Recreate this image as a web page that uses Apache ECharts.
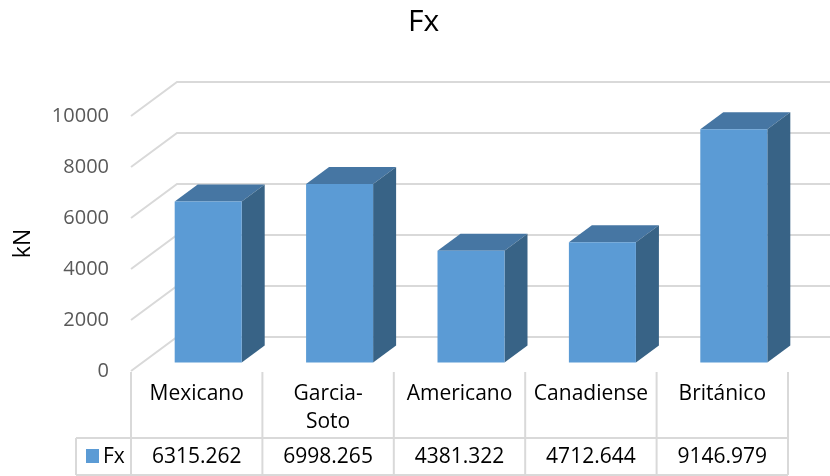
<!DOCTYPE html>
<html>
<head>
<meta charset="utf-8">
<script src="https://cdn.jsdelivr.net/npm/echarts@6/dist/echarts.min.js"></script>
<style>
  html, body { margin: 0; padding: 0; background: #fff; }
</style>
</head>
<body>
<div id="chart" style="width: 830px; height: 476px;"></div>
<script>
// 数据
const categories = ['Mexicano', 'Garcia-Soto', 'Americano', 'Canadiense', 'Británico'];
const fxValues = [6315.262, 6998.265, 4381.322, 4712.644, 9146.979];
const yTicks = [0, 2000, 4000, 6000, 8000, 10000];
const seriesName = 'Fx';

// 3D 深度偏移
const DX = 46;
const DY = -34;
const FONT = '"Open Sans", sans-serif';
const GRID_COLOR = '#d9d9d9';

const chart = echarts.init(document.getElementById('chart'));

function renderGrid(params, api) {
  const cs = params.coordSys;
  const y = api.coord([0, api.value(1)])[1];
  return {
    type: 'polyline',
    shape: { points: [[cs.x, y], [cs.x + DX, y + DY], [cs.x + cs.width + DX, y + DY]] },
    style: { stroke: GRID_COLOR, lineWidth: 2, fill: null },
    silent: true
  };
}

function renderBar(params, api) {
  const i = api.value(0);
  const top = api.coord([i, api.value(1)]);
  const base = api.coord([i, 0]);
  const w = api.size([1, 0])[0] * 0.51;
  const fx = DX / 4, fy = DY / 4;
  const bx = DX / 2, by = DY / 2;
  const x0 = top[0] - w / 2 + fx, x1 = top[0] + w / 2 + fx;
  const yt = top[1] + fy, yb = base[1] + fy;
  return {
    type: 'group',
    children: [
      {
        type: 'polygon',
        shape: { points: [[x0, yt], [x1, yt], [x1 + bx, yt + by], [x0 + bx, yt + by]] },
        style: { fill: '#4676a3' }
      },
      {
        type: 'polygon',
        shape: { points: [[x1, yt], [x1 + bx, yt + by], [x1 + bx, yb + by], [x1, yb]] },
        style: { fill: '#386386' }
      },
      {
        type: 'rect',
        shape: { x: x0, y: yt, width: x1 - x0, height: yb - yt },
        style: { fill: '#5b9bd5' }
      }
    ]
  };
}

function renderTable(params, api) {
  const i = api.value(0);
  const cx = api.coord([i, 0])[0];
  const bw = api.size([1, 0])[0];
  return {
    type: 'group',
    children: [
      {
        type: 'line',
        shape: { x1: cx + bw / 2, y1: 372, x2: cx + bw / 2, y2: 475 },
        style: { stroke: GRID_COLOR, lineWidth: 2 }
      },
      {
        type: 'text',
        x: cx,
        y: 457,
        style: {
          text: api.value(1).toFixed(3),
          font: '21px ' + FONT,
          fill: '#000',
          align: 'center',
          verticalAlign: 'middle'
        }
      }
    ]
  };
}

const option = {
  animation: false,
  title: {
    text: seriesName,
    left: 403,
    top: 2,
    textStyle: { fontFamily: FONT, fontSize: 30, fontWeight: 'normal', color: '#000' }
  },
  grid: { left: 131, right: 42, top: 116, bottom: 105, outerBoundsMode: 'none' },
  xAxis: {
    type: 'category',
    data: categories,
    axisLine: { show: false },
    axisTick: { show: false },
    axisLabel: {
      interval: 0,
      hideOverlap: false,
      margin: 9,
      verticalAlign: 'top',
      fontFamily: FONT,
      fontSize: 21,
      lineHeight: 28,
      color: '#000',
      formatter: v => v.replace('-', '-\n')
    }
  },
  yAxis: {
    type: 'value',
    min: 0,
    max: 10000,
    interval: 2000,
    name: 'kN',
    nameLocation: 'middle',
    nameRotate: 90,
    nameGap: 96,
    nameTextStyle: { fontFamily: FONT, fontSize: 23, color: '#000' },
    axisLine: { show: false },
    axisTick: { show: false },
    splitLine: { show: false },
    axisLabel: { margin: 22, fontFamily: FONT, fontSize: 20, color: '#595959', formatter: v => String(v) }
  },
  graphic: [
    { type: 'line', shape: { x1: 131, y1: 372, x2: 131, y2: 475 }, style: { stroke: GRID_COLOR, lineWidth: 2 } },
    { type: 'line', shape: { x1: 76, y1: 438, x2: 788, y2: 438 }, style: { stroke: GRID_COLOR, lineWidth: 2 } },
    { type: 'line', shape: { x1: 76, y1: 475, x2: 788, y2: 475 }, style: { stroke: GRID_COLOR, lineWidth: 2 } },
    { type: 'line', shape: { x1: 76, y1: 438, x2: 76, y2: 475 }, style: { stroke: GRID_COLOR, lineWidth: 2 } },
    { type: 'rect', shape: { x: 86, y: 449, width: 13, height: 14 }, style: { fill: '#5b9bd5' } },
    {
      type: 'text', x: 103, y: 457,
      style: { text: seriesName, font: '21px ' + FONT, fill: '#000', verticalAlign: 'middle' }
    }
  ],
  series: [
    {
      type: 'custom',
      renderItem: renderGrid,
      data: yTicks.map(v => [0, v]),
      z: 1
    },
    {
      name: seriesName,
      type: 'custom',
      renderItem: renderBar,
      data: fxValues.map((v, i) => [i, v]),
      z: 3
    },
    {
      type: 'custom',
      renderItem: renderTable,
      data: fxValues.map((v, i) => [i, v]),
      z: 2
    }
  ]
};

chart.setOption(option);
</script>
</body>
</html>
